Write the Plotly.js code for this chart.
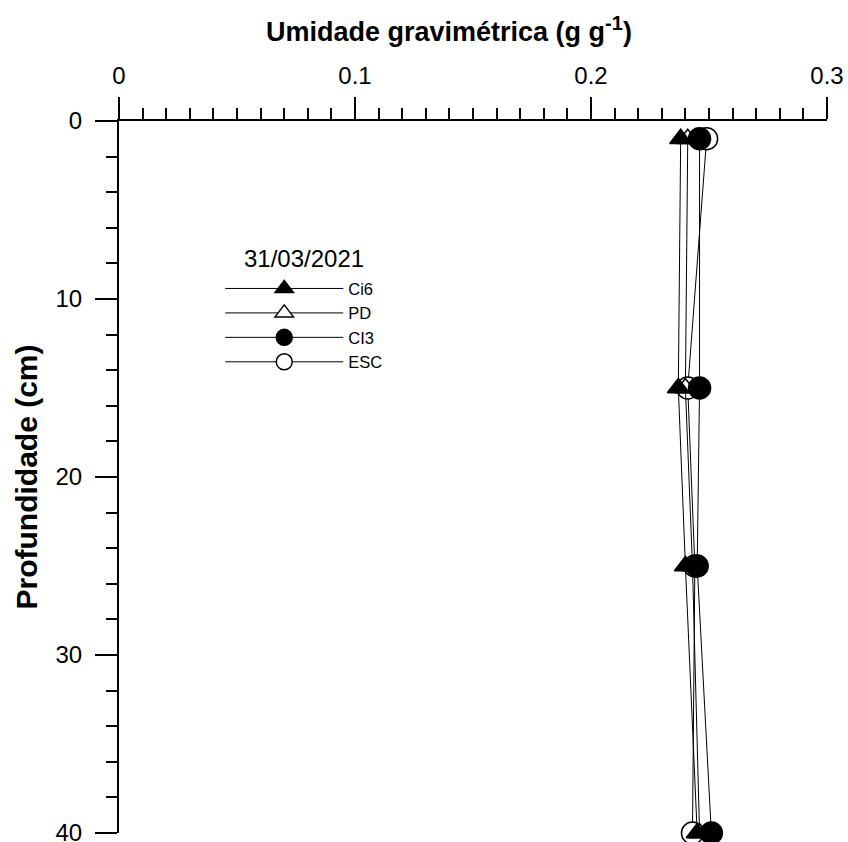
<!DOCTYPE html>
<html>
<head>
<meta charset="utf-8">
<script src="https://cdn.plot.ly/plotly-3.0.1.min.js"></script>
<style>html,body{margin:0;padding:0;background:#fff;}#chart{width:848px;height:842px;}</style>
</head>
<body>
<div id="chart"></div>
<script>
// Depths (cm)
const depths = [1, 15, 25, 40];
// Gravimetric moisture (g g-1) per treatment
const ci6 = [0.238, 0.237, 0.240, 0.245];
const pd  = [0.241, 0.240, 0.243, 0.246];
const cl3 = [0.246, 0.246, 0.245, 0.251];
const esc = [0.249, 0.241, 0.244, 0.243];
const legendTitle = "31/03/2021";
const xTicks = [0, 0.1, 0.2, 0.3];
const xTickText = ["0", "0.1", "0.2", "0.3"];
const yTicks = [0, 10, 20, 30, 40];

const FONT = "Arial, 'Liberation Sans', sans-serif";

function tr(name, xs, symbol, fill, size, rank) {
  return {
    type: "scatter", mode: "lines+markers", name: name,
    x: xs, y: depths, legendrank: rank, cliponaxis: false,
    line: {color: "#000", width: 1},
    marker: {symbol: symbol, size: size, color: fill, line: {color: "#000", width: 1.5}}
  };
}

// draw order: ESC first, CI3 last (as in the reference overlap)
const data = [
  tr("ESC", esc, "circle", "#fff", 22, 4),
  tr("PD", pd, "triangle-up", "#fff", 19, 2),
  tr("Ci6", ci6, "triangle-up", "#000", 19, 1),
  tr("CI3", cl3, "circle", "#000", 22, 3)
];

const layout = {
  width: 848, height: 842,
  margin: {l: 119, r: 21, t: 121, b: 9},
  paper_bgcolor: "#fff", plot_bgcolor: "#fff",
  font: {family: FONT, color: "#000", size: 24},
  showlegend: true,
  legend: {
    x: 0.143, y: 0.789, xanchor: "left", yanchor: "top",
    bgcolor: "rgba(0,0,0,0)", borderwidth: 0,
    font: {family: FONT, size: 16.5, color: "#000"},
    traceorder: "normal", tracegroupgap: 0,
    itemwidth: 118
  },
  annotations: [
    {
      text: legendTitle, xref: "paper", yref: "paper", x: 0.2613, y: 0.8062,
      xanchor: "center", yanchor: "middle", showarrow: false,
      font: {family: FONT, size: 24, color: "#000"}
    },
    {
      text: "<b>Umidade gravimétrica (g g<sup><span style='font-size:20px'>-1</span></sup>)</b>",
      xref: "paper", yref: "paper", x: 0.466, y: 1.128,
      xanchor: "center", yanchor: "middle", showarrow: false,
      font: {family: FONT, size: 27, color: "#000"}
    }
  ],
  xaxis: {
    side: "top", range: [0, 0.3], tickvals: xTicks, ticktext: xTickText,
    showgrid: false, zeroline: false,
    showline: true, linecolor: "#000", linewidth: 2,
    ticks: "outside", ticklen: 22, tickwidth: 2, tickcolor: "#000",
    minor: {dtick: 0.01, tick0: 0, ticks: "outside", ticklen: 11, tickwidth: 2, tickcolor: "#000", showgrid: false},
    tickfont: {family: FONT, size: 24}, ticklabelstandoff: 3, ticklabeloverflow: "allow"
  },
  yaxis: {
    range: [40, 0], tickvals: yTicks,
    showgrid: false, zeroline: false,
    showline: true, linecolor: "#000", linewidth: 2,
    ticks: "outside", ticklen: 22, tickwidth: 2, tickcolor: "#000",
    minor: {dtick: 2, tick0: 0, ticks: "outside", ticklen: 11, tickwidth: 2, tickcolor: "#000", showgrid: false},
    tickfont: {family: FONT, size: 24}, ticklabelstandoff: 8, ticklabeloverflow: "allow",
    title: {text: "<b>Profundidade (cm)</b>", font: {family: FONT, size: 30}, standoff: 9}
  }
};

Plotly.newPlot("chart", data, layout, {displayModeBar: false, staticPlot: true});
</script>
</body>
</html>
